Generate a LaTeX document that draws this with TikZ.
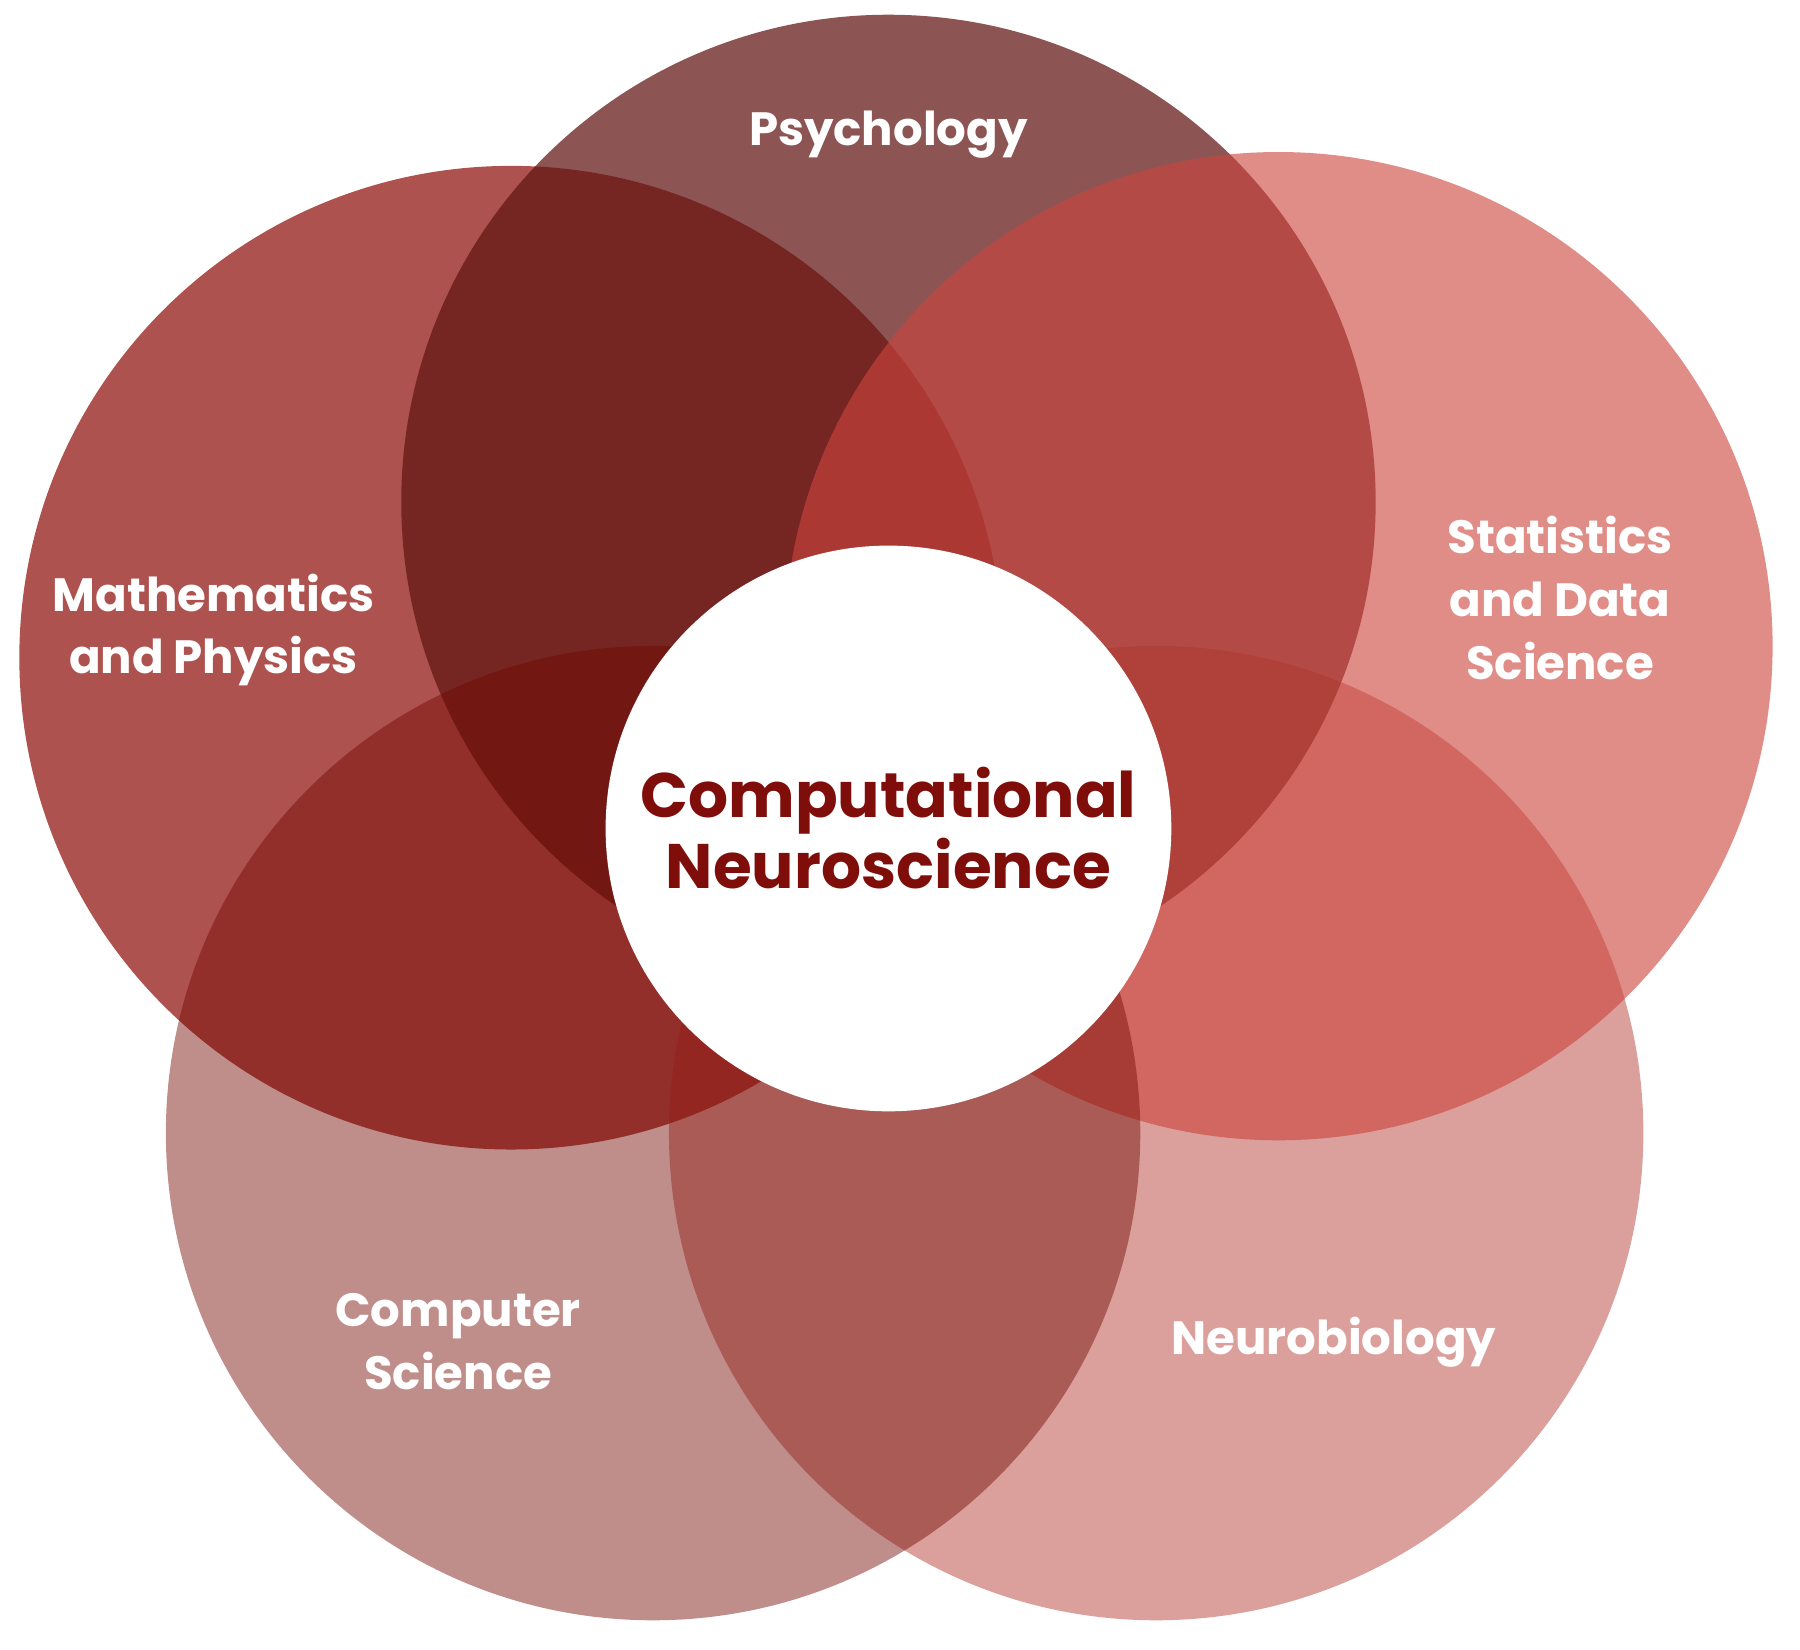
\documentclass[tikz,border=0pt]{standalone}
\usepackage{fontspec}
\setmainfont{Poppins}
\usetikzlibrary{positioning}
\definecolor{psycol}{HTML}{601311}
\definecolor{mathcol}{HTML}{8E0F0A}
\definecolor{statcol}{HTML}{CD453D}
\definecolor{cscol}{HTML}{730902}
\definecolor{neucol}{HTML}{AF2C24}
\definecolor{cntcol}{HTML}{7F0E0A}

\begin{document}
\begin{tikzpicture}[
    x = 0.01cm, y = -0.01cm,
    field/.style = {circle, inner sep = 0pt},
    lbl/.style = {text = white, font = \fontsize{11.5}{15.5}\selectfont\bfseries, align = center}
    ]
    \useasboundingbox (0,0) rectangle (1560,1430);

    % disciplines
    \node[field, fill = mathcol, fill opacity = 0.72, minimum size = 8.52cm] (math) at (443,570) {};
    \node[field, fill = neucol, fill opacity = 0.45, minimum size = 8.44cm] (neu) at (1002,982) {};
    \node[field, fill = psycol, fill opacity = 0.72, minimum size = 8.44cm] (psy) at (770,435) {};
    \node[field, fill = statcol, fill opacity = 0.62, minimum size = 8.56cm] (stat) at (1108,560) {};
    \node[field, fill = cscol, fill opacity = 0.46, minimum size = 8.44cm] (cs) at (566,982) {};

    % centre
    \node[circle, fill = white, minimum size = 4.9cm] (core) at (770,718) {};
    \node[text = cntcol, font = \fontsize{15.5}{17.5}\selectfont\bfseries, align = center]
        at (core) {Computational\\Neuroscience};

    % labels
    \node[lbl] (psylbl) at (770,117) {Psychology};
    \node[lbl] (mathlbl) at (185,546) {Mathematics\\and Physics};
    \node[lbl] (statlbl) at (1352,518) {Statistics\\and Data\\Science};
    \node[lbl] (cslbl) at (397,1163) {Computer\\Science};
    \node[lbl] (neulbl) at (1156,1163) {Neurobiology};
\end{tikzpicture}
\end{document}
